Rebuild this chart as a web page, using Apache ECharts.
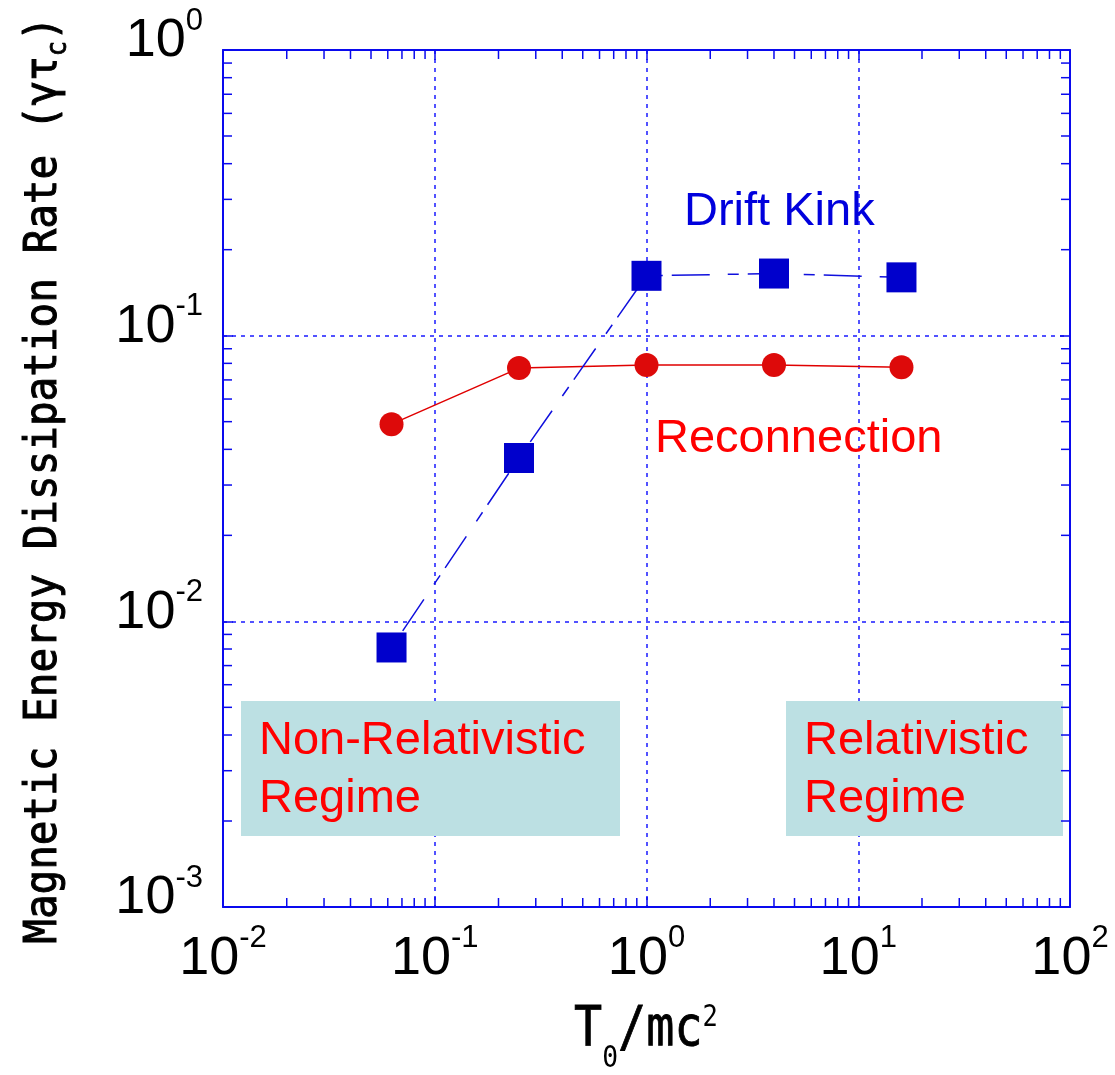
<!DOCTYPE html>
<html>
<head>
<meta charset="utf-8">
<title>Magnetic Energy Dissipation Rate</title>
<script src="https://cdn.jsdelivr.net/npm/echarts@6/dist/echarts.min.js"></script>
<style>
    html, body { margin: 0; padding: 0; background: #fff; }
    #myChart { width: 1115px; height: 1075px; }
</style>
</head>
<body>
<div id="myChart"></div>
<script>
// T0/mc^2 values of the runs
var temperature = [0.0625, 0.25, 1, 4, 16];
// growth rates (gamma * tau_c)
var reconnectionRate = [0.049, 0.077, 0.079, 0.079, 0.0775];
var driftKinkRate = [0.0081, 0.0373, 0.162, 0.165, 0.160];
// decade labels, written as 10^exp
var xTickExponents = ['-2', '-1', '0', '1', '2'];
var yTickExponents = ['-3', '-2', '-1', '0'];

var AXIS_BLUE = '#0a0aee';
var LABEL_FONT = '"Liberation Sans", Arial, sans-serif';
var MONO_FONT = '"DejaVu Sans Mono", monospace';

function minorTicks(fromExp, toExp) {
    var list = [];
    for (var k = fromExp; k < toExp; k++) {
        for (var m = 2; m <= 9; m++) {
            list.push(+(m * Math.pow(10, k)).toPrecision(3));
        }
    }
    return list;
}

function pairs(xs, ys) {
    return xs.map(function (x, i) {
        return [x, ys[i]];
    });
}

function decadeLabel(exps, minExp) {
    return function (value) {
        var idx = Math.round(Math.log(value) / Math.LN10) - minExp;
        return '{b|10}{s|' + exps[idx] + '}';
    };
}

// "10" sits low in the line, exponent at the top
var labelRich = {
    b: {fontSize: 54, fontFamily: LABEL_FONT, lineHeight: 63, verticalAlign: 'bottom', color: '#000'},
    s: {fontSize: 31, fontFamily: LABEL_FONT, lineHeight: 18, verticalAlign: 'top', color: '#000'}
};

function gridLine() {
    return {show: true, lineStyle: {color: '#1a1aff', width: 1.5, type: [4, 5]}};
}

function frameAxis(min, max, position, labels) {
    return {
        type: 'log',
        logBase: 10,
        min: min,
        max: max,
        position: position,
        splitNumber: 4,
        axisLine: {show: true, lineStyle: {color: AXIS_BLUE, width: 2}},
        axisTick: {show: true, inside: true, length: 10, lineStyle: {color: AXIS_BLUE, width: 1.5}},
        axisLabel: labels || {show: false},
        splitLine: {show: false},
        minorTick: {show: false},
        axisPointer: {show: false}
    };
}

function tickRenderer(dir) {
    return function (params, api) {
        var cs = params.coordSys;
        var p = api.coord([api.value(0), api.value(1)]);
        var st = {stroke: AXIS_BLUE, lineWidth: 1.5};
        if (dir === 'x') {
            return {type: 'group', children: [
                {type: 'line', shape: {x1: p[0], y1: cs.y + cs.height, x2: p[0], y2: cs.y + cs.height - 9}, style: st},
                {type: 'line', shape: {x1: p[0], y1: cs.y, x2: p[0], y2: cs.y + 9}, style: st}
            ]};
        }
        return {type: 'group', children: [
            {type: 'line', shape: {x1: cs.x, y1: p[1], x2: cs.x + 9, y2: p[1]}, style: st},
            {type: 'line', shape: {x1: cs.x + cs.width, y1: p[1], x2: cs.x + cs.width - 9, y2: p[1]}, style: st}
        ]};
    };
}

var xBottom = frameAxis(0.01, 100, 'bottom', {
    show: true, margin: 16, formatter: decadeLabel(xTickExponents, -2), rich: labelRich
});
xBottom.splitLine = gridLine();
var yLeft = frameAxis(0.001, 1, 'left', {
    show: true, margin: 20, padding: [0, 0, 26, 0],
    formatter: decadeLabel(yTickExponents, -3), rich: labelRich
});
yLeft.splitNumber = 3;
yLeft.splitLine = gridLine();
var yRight = frameAxis(0.001, 1, 'right');
yRight.splitNumber = 3;

var textFont = '"Liberation Sans", Arial, sans-serif';

var option = {
    animation: false,
    backgroundColor: '#fff',
    grid: {left: 223, right: 45, top: 50, bottom: 168, outerBoundsMode: 'none'},
    xAxis: [xBottom, frameAxis(0.01, 100, 'top')],
    yAxis: [yLeft, yRight],
    series: [
        {
            type: 'custom', silent: true, z: 4,
            renderItem: tickRenderer('x'),
            data: minorTicks(-2, 2).map(function (v) { return [v, 1]; })
        },
        {
            type: 'custom', silent: true, z: 4,
            renderItem: tickRenderer('y'),
            data: minorTicks(-3, 0).map(function (v) { return [1, v]; })
        },
        {
            name: 'Reconnection',
            type: 'line',
            data: pairs(temperature, reconnectionRate),
            symbol: 'circle',
            symbolSize: 24,
            itemStyle: {color: '#dd0a0a'},
            lineStyle: {color: '#e00000', width: 1.5},
            z: 5
        },
        {
            name: 'Drift Kink',
            type: 'line',
            data: pairs(temperature, driftKinkRate),
            symbol: 'rect',
            symbolSize: 30,
            itemStyle: {color: '#0000cc'},
            lineStyle: {color: '#1010dd', width: 1.5, type: [11, 9, 38, 18]},
            z: 6
        }
    ],
    graphic: [
        {type: 'rect', z: 1, shape: {x: 241, y: 701, width: 379, height: 135}, style: {fill: '#bce0e3'}},
        {type: 'rect', z: 1, shape: {x: 786, y: 701, width: 277, height: 135}, style: {fill: '#bce0e3'}},
        {type: 'text', z: 10, x: 259, y: 770.5, style: {
            text: 'Non-Relativistic\nRegime', fill: '#ff0000', fontSize: 47, fontFamily: textFont,
            lineHeight: 58, align: 'left', verticalAlign: 'middle'}},
        {type: 'text', z: 10, x: 804, y: 770.5, style: {
            text: 'Relativistic\nRegime', fill: '#ff0000', fontSize: 47, fontFamily: textFont,
            lineHeight: 58, align: 'left', verticalAlign: 'middle'}},
        {type: 'text', z: 10, x: 684, y: 212, style: {
            text: 'Drift Kink', fill: '#0000dd', fontSize: 47, fontFamily: textFont,
            align: 'left', verticalAlign: 'middle'}},
        {type: 'text', z: 10, x: 655, y: 439, style: {
            text: 'Reconnection', fill: '#ff0000', fontSize: 47, fontFamily: textFont,
            align: 'left', verticalAlign: 'middle'}},
        // y axis name, rotated, subscript c
        {type: 'text', z: 10, x: 22, y: 480, rotation: Math.PI / 2, scaleX: 0.91, style: {
            text: '{m|Magnetic Energy Dissipation Rate (γτ}{c|c}{m|)}',
            align: 'center', verticalAlign: 'top', fill: '#000',
            rich: {
                m: {fontSize: 45, fontFamily: MONO_FONT, lineHeight: 44, verticalAlign: 'top',
                    fill: '#000', stroke: '#000', lineWidth: 1},
                c: {fontSize: 28, fontFamily: MONO_FONT, lineHeight: 51, verticalAlign: 'bottom',
                    fill: '#000', stroke: '#000', lineWidth: 0.8}
            }}},
        // x axis name T0/mc^2
        {type: 'text', z: 10, x: 646, y: 1003, scaleX: 0.85, style: {
            text: '{t|T}{d|0}{t|/mc}{u|2}',
            align: 'center', verticalAlign: 'top', fill: '#000',
            rich: {
                t: {fontSize: 55, fontFamily: MONO_FONT, lineHeight: 56, verticalAlign: 'top',
                    fill: '#000', stroke: '#000', lineWidth: 0.8},
                d: {fontSize: 31, fontFamily: MONO_FONT, lineHeight: 71, verticalAlign: 'bottom', fill: '#000'},
                u: {fontSize: 30, fontFamily: MONO_FONT, lineHeight: 17, verticalAlign: 'top', fill: '#000'}
            }}}
    ]
};

var myChart = echarts.init(document.getElementById('myChart'));
myChart.setOption(option);
</script>
</body>
</html>
